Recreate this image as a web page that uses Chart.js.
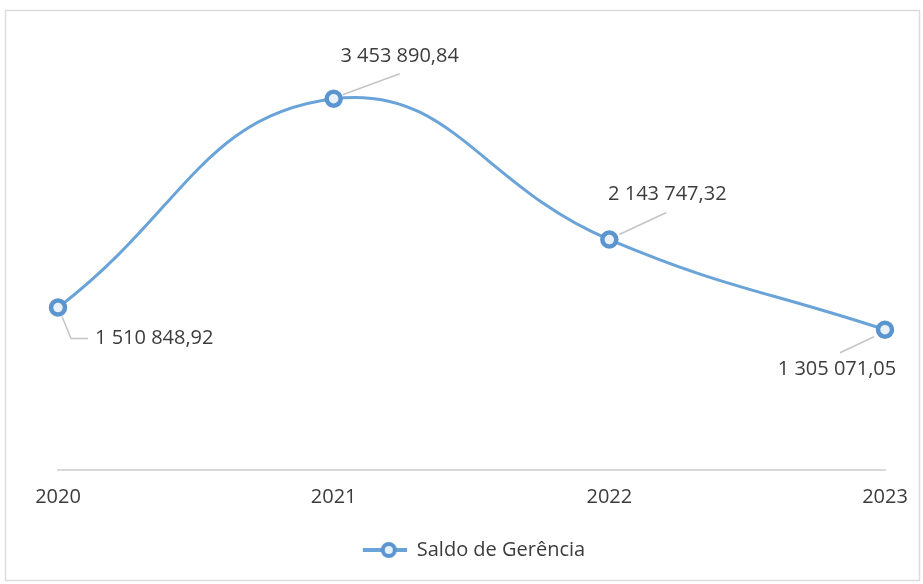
<!DOCTYPE html>
<html>
<head>
<meta charset="utf-8">
<script src="https://cdn.jsdelivr.net/npm/chart.js@4.4.0/dist/chart.umd.min.js"></script>
<style>
  html, body { margin: 0; padding: 0; background: #fff; }
  #wrap { width: 923px; height: 584px; }
</style>
</head>
<body>
<div id="wrap"><canvas id="myChart"></canvas></div>
<script>
const years = ['2020', '2021', '2022', '2023'];
const saldo = [1510848.92, 3453890.84, 2143747.32, 1305071.05];
const seriesName = 'Saldo de Gerência';

const lineBlue = '#6aa3d8';
const markBlue = '#5b95cf';
const textGrey = '#3c3c3c';

// where each value label sits, relative to its point
const labelSpots = [
    { dx: 37, dy: 31, align: 'left', leader: [[4, 9], [13, 31], [30, 31]] },
    { dx: 66, dy: -42, align: 'center', leader: [[9, -4], [66, -25]] },
    { dx: 58, dy: -45, align: 'center', leader: [[10, -5], [57, -27]] },
    { dx: -48, dy: 40, align: 'center', leader: [[-11, 7], [-45, 23]] }
];

function fmt(v) {
    const parts = v.toFixed(2).split('.');
    const intPart = parts[0].replace(/\B(?=(\d{3})+(?!\d))/g, ' ');
    return intPart + ',' + parts[1];
}

// legend symbol: line with a ring on it
function legendSymbol() {
    const c = document.createElement('canvas');
    c.width = 49;
    c.height = 20;
    const g = c.getContext('2d');
    g.strokeStyle = lineBlue;
    g.lineWidth = 4;
    g.beginPath();
    g.moveTo(5, 10);
    g.lineTo(49, 10);
    g.stroke();
    g.beginPath();
    g.arc(31, 10, 6, 0, Math.PI * 2);
    g.fillStyle = '#e8f0f9';
    g.fill();
    g.lineWidth = 4;
    g.strokeStyle = markBlue;
    g.stroke();
    return c;
}

const frame = {
    id: 'frame',
    beforeDraw(chart) {
        const ctx = chart.ctx;
        ctx.save();
        ctx.strokeStyle = '#dcdcdc';
        ctx.lineWidth = 1.5;
        ctx.strokeRect(5.5, 10.5, 914, 570);
        ctx.restore();
    }
};

const valueLabels = {
    id: 'valueLabels',
    afterDatasetsDraw(chart) {
        const ctx = chart.ctx;
        const meta = chart.getDatasetMeta(0);
        ctx.save();
        meta.data.forEach((pt, i) => {
            const spot = labelSpots[i];
            ctx.strokeStyle = '#c4c4c4';
            ctx.lineWidth = 1.5;
            ctx.beginPath();
            spot.leader.forEach((p, k) => {
                if (k === 0) ctx.moveTo(pt.x + p[0], pt.y + p[1]);
                else ctx.lineTo(pt.x + p[0], pt.y + p[1]);
            });
            ctx.stroke();
            ctx.fillStyle = textGrey;
            ctx.font = "20px 'Open Sans'";
            ctx.textAlign = spot.align;
            ctx.textBaseline = 'middle';
            ctx.fillText(fmt(saldo[i]), pt.x + spot.dx, pt.y + spot.dy);
        });
        ctx.restore();
    }
};

Chart.defaults.font.family = "'Open Sans', sans-serif";
Chart.defaults.color = textGrey;

new Chart('myChart', {
    type: 'line',
    data: {
        labels: years,
        datasets: [{
            label: seriesName,
            data: saldo,
            borderColor: lineBlue,
            borderWidth: 3,
            tension: 0.45,
            fill: false,
            pointRadius: 7,
            pointHoverRadius: 7,
            pointBorderWidth: 4.5,
            pointBackgroundColor: '#e8f0f9',
            pointBorderColor: markBlue
        }]
    },
    options: {
        responsive: true,
        maintainAspectRatio: false,
        animation: false,
        layout: { padding: { left: 58, right: 38, top: 40, bottom: 14 } },
        plugins: {
            tooltip: { enabled: false },
            legend: {
                position: 'bottom',
                labels: {
                    usePointStyle: true,
                    pointStyle: legendSymbol(),
                    pointStyleWidth: 49,
                    padding: 10,
                    font: { size: 20 },
                    color: textGrey
                }
            }
        },
        scales: {
            x: {
                offset: false,
                grid: { display: false, drawTicks: false },
                border: { color: '#d9d9d9', width: 2 },
                ticks: { font: { size: 20 }, padding: 15, color: textGrey },
                afterFit(scale) { scale.height = 60; }
            },
            y: {
                display: false,
                min: 0,
                max: 4000000
            }
        }
    },
    plugins: [frame, valueLabels]
});
</script>
</body>
</html>
